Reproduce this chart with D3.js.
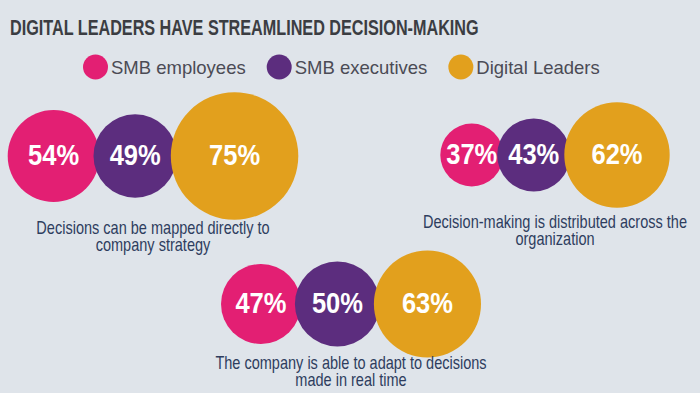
<!DOCTYPE html>
<html>
<head>
<meta charset="utf-8">
<script src="https://cdn.jsdelivr.net/npm/d3@7"></script>
<style>
  html, body { margin: 0; padding: 0; background: #dfe4ea; }
  svg { display: block; }
</style>
</head>
<body>
<svg id="chart"></svg>
<script>
// data
const groups = ["SMB employees", "SMB executives", "Digital Leaders"];
const colors = ["#e31f73", "#5c2d7e", "#e2a01d"];
const smbEmployees = [54, 37, 47];
const smbExecutives = [49, 43, 50];
const digitalLeaders = [75, 62, 63];
const captions = [
    ["Decisions can be mapped directly to", "company strategy"],
    ["Decision-making is distributed across the", "organization"],
    ["The company is able to adapt to decisions", "made in real time"]
];

// layout of each cluster (center x, circle center y, caption baseline)
const layout = [
    {cx: 153, cy: 156, ty: 234},
    {cx: 555, cy: 155, ty: 228},
    {cx: 351, cy: 304, ty: 369}
];

const width = 700, height = 393;
const sans = "'Liberation Sans', Arial, Helvetica, sans-serif";

const svg = d3.select("#chart")
    .attr("width", width)
    .attr("height", height);

svg.append("rect")
    .attr("width", width)
    .attr("height", height)
    .attr("fill", "#dfe4ea");

// no condensed font installed, so squeeze a normal one horizontally
function condensedText(parent, x, y, sx) {
    return parent.append("text")
        .attr("transform", `translate(${x}, ${y}) scale(${sx}, 1)`)
        .attr("font-family", sans);
}

// title
condensedText(svg, 10, 35, 0.72)
    .attr("font-weight", "bold")
    .attr("font-size", 22.5)
    .attr("fill", "#3b3d42")
    .text("DIGITAL LEADERS HAVE STREAMLINED DECISION-MAKING");

// legend
const legend = svg.append("g");
let lx = 83;
groups.forEach((g, i) => {
    const item = legend.append("g").attr("transform", `translate(${lx}, 67)`);
    item.append("circle")
        .attr("cx", 12.5)
        .attr("r", 12.5)
        .attr("fill", colors[i]);
    const t = item.append("text")
        .attr("x", 28)
        .attr("y", 6.5)
        .attr("font-family", sans)
        .attr("font-size", 18.5)
        .attr("fill", "#4b4b55")
        .text(g);
    lx += 28 + t.node().getComputedTextLength() + 21;
});

// radius scale: radius grows linearly with value
const r = d3.scaleLinear().domain([0, 100]).range([0, 85]);
const overlap = 6;

const clusters = captions.map((c, k) => ({
    caption: c,
    values: [smbEmployees[k], smbExecutives[k], digitalLeaders[k]],
    pos: layout[k]
}));

const cg = svg.selectAll("g.cluster")
    .data(clusters)
    .join("g")
    .attr("class", "cluster");

cg.each(function(d) {
    const g = d3.select(this);
    const total = d3.sum(d.values, v => 2 * r(v)) - overlap * (d.values.length - 1);
    let x = d.pos.cx - total / 2;
    const circles = d.values.map((v, i) => {
        const rad = r(v);
        const c = {v, i, rad, x: x + rad};
        x += 2 * rad - overlap;
        return c;
    });

    g.selectAll("circle")
        .data(circles)
        .join("circle")
        .attr("cx", c => c.x)
        .attr("cy", d.pos.cy)
        .attr("r", c => c.rad)
        .attr("fill", c => colors[c.i]);

    circles.forEach(c => {
        condensedText(g, c.x, d.pos.cy + 9, 0.88)
            .attr("text-anchor", "middle")
            .attr("font-weight", "bold")
            .attr("font-size", 29)
            .attr("fill", "#ffffff")
            .text(c.v + "%");
    });

    d.caption.forEach((s, j) => {
        condensedText(g, d.pos.cx, d.pos.ty + j * 17, 0.83)
            .attr("text-anchor", "middle")
            .attr("font-size", 17.5)
            .attr("fill", "#2e3d5e")
            .text(s);
    });
});
</script>
</body>
</html>
